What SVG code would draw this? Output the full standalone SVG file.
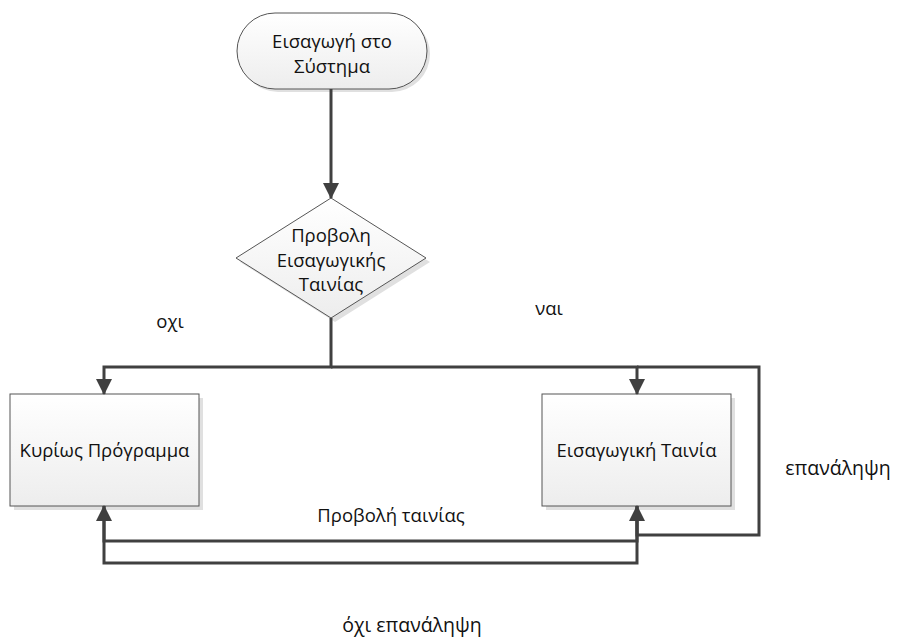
<svg xmlns="http://www.w3.org/2000/svg" width="904" height="637" viewBox="0 0 904 637">
<defs>
<linearGradient id="g" x1="0" y1="0" x2="0" y2="1">
<stop offset="0" stop-color="#ffffff"/>
<stop offset="1" stop-color="#ededed"/>
</linearGradient>
<marker id="ah" viewBox="0 0 16 16" refX="15" refY="8" markerWidth="16" markerHeight="16" markerUnits="userSpaceOnUse" orient="auto">
<path d="M0,0 L16,8 L0,16 z" fill="#404040"/>
</marker>
<style>
.shape{fill:url(#g);stroke:#555;stroke-width:1}
.shadow{fill:#e0e0e0}
.t{font-family:"Open Sans","Liberation Sans",sans-serif;font-size:18.5px;fill:#111;text-anchor:middle}
.c{fill:none;stroke:#404040;stroke-width:3}
</style>
</defs>
<rect width="904" height="637" fill="#fff"/>
<g id="start">
<rect class="shadow" x="240" y="16" width="190" height="76" rx="38"/>
<rect class="shape" x="237" y="13" width="190" height="76" rx="38"/>
<text class="t" x="332" y="48">Εισαγωγή στο</text>
<text class="t" x="332" y="73">Σύστημα</text>
</g>
<g id="decision">
<polygon class="shadow" points="335,202 430,262 335,322 240,262"/>
<polygon class="shape" points="331,198 426,258 331,318 236,258"/>
<text class="t" x="331" y="242">Προβολη</text>
<text class="t" x="331" y="267">Εισαγωγικής</text>
<text class="t" x="331" y="291">Ταινίας</text>
</g>
<g id="main">
<rect class="shadow" x="14" y="398" width="189" height="112"/>
<rect class="shape" x="10" y="394" width="189" height="112"/>
<text class="t" x="104.5" y="457">Κυρίως Πρόγραμμα</text>
</g>
<g id="intro">
<rect class="shadow" x="546" y="398" width="189" height="112"/>
<rect class="shape" x="542" y="394" width="189" height="112"/>
<text class="t" x="636.5" y="457">Εισαγωγική Ταινία</text>
</g>
<g id="connectors">
<path class="c" d="M331,89 L331,198" marker-end="url(#ah)"/>
<path class="c" d="M331,318 L331,367 L104,367 L104,394" marker-end="url(#ah)"/>
<path class="c" d="M331,367 L637,367 L637,394" marker-end="url(#ah)"/>
<path class="c" d="M637,506 L637,535 L759,535 L759,367 L637,367"/>
<path class="c" d="M637,506 L637,541 L104,541 L104,506" marker-end="url(#ah)"/>
<path class="c" d="M104,506 L104,563 L637,563 L637,506" marker-end="url(#ah)"/>
</g>
<g id="labels">
<text class="t" x="170" y="328">οχι</text>
<text class="t" x="549" y="315">ναι</text>
<text class="t" x="391" y="522">Προβολή ταινίας</text>
<text class="t" x="838" y="475" style="font-size:19.5px">επανάληψη</text>
<text class="t" x="412" y="632" style="font-size:19.5px">όχι επανάληψη</text>
</g>
</svg>
